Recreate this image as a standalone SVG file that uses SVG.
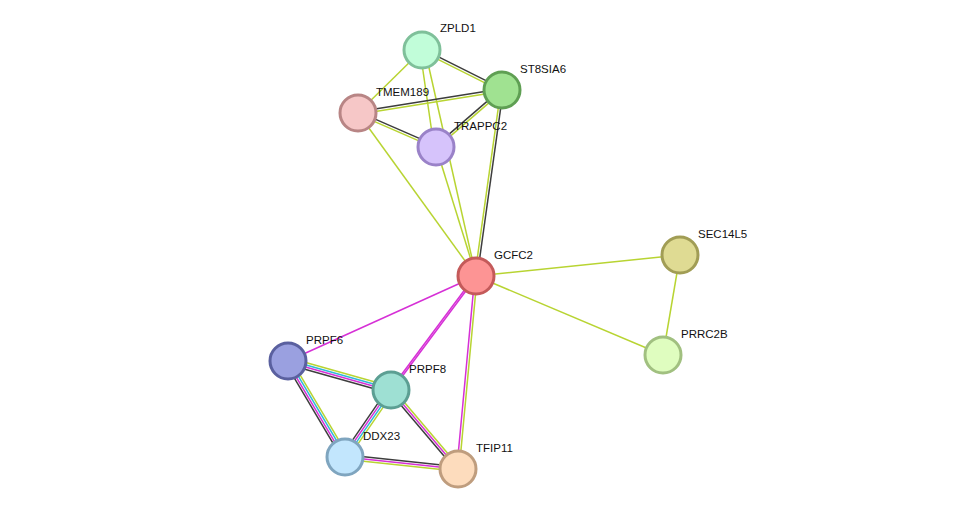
<svg xmlns="http://www.w3.org/2000/svg" width="975" height="515" viewBox="0 0 975 515">
<style>
.e line{stroke-width:1.5;fill:none}
.k{stroke:#3d3d3d}.y{stroke:#b8d432}.m{stroke:#d630d6}.c{stroke:#30b8d8}
.n circle{stroke-width:3}
text{font-family:"Liberation Sans",Arial,sans-serif;font-size:11.5px;fill:#111}
</style>
<rect width="975" height="515" fill="#fff"/>
<g id="connectors" class="e">
<line class="y" x1="422" y1="50" x2="358" y2="113"/>
<line class="y" x1="420" y1="50" x2="434" y2="147"/>
<line class="y" x1="425" y1="50" x2="476" y2="276"/>
<line class="y" x1="358" y1="113" x2="476" y2="276"/>
<line class="y" x1="436" y1="147" x2="476" y2="276"/>
<line class="y" x1="476" y1="276" x2="680" y2="255"/>
<line class="y" x1="476" y1="276" x2="663" y2="355"/>
<line class="y" x1="680" y1="255" x2="663" y2="355"/>
<line class="m" x1="476" y1="276" x2="288" y2="361"/>
<g transform="translate(422,50) rotate(26.57)"><line class="k" x1="0" y1="-1.2" x2="89.4" y2="-1.2"/><line class="y" x1="0" y1="1.2" x2="89.4" y2="1.2"/></g>
<g transform="translate(358,113) rotate(-9.07)"><line class="k" x1="0" y1="-1.2" x2="145.8" y2="-1.2"/><line class="y" x1="0" y1="1.2" x2="145.8" y2="1.2"/></g>
<g transform="translate(358,113) rotate(23.55)"><line class="k" x1="0" y1="-1.2" x2="85.1" y2="-1.2"/><line class="y" x1="0" y1="1.2" x2="85.1" y2="1.2"/></g>
<g transform="translate(436,147) rotate(-40.8)"><line class="k" x1="0" y1="-1.2" x2="87.2" y2="-1.2"/><line class="y" x1="0" y1="1.2" x2="87.2" y2="1.2"/></g>
<g transform="translate(502,90) rotate(97.96)"><line class="k" x1="0" y1="-1.2" x2="187.8" y2="-1.2"/><line class="y" x1="0" y1="1.2" x2="187.8" y2="1.2"/></g>
<g transform="translate(476,276) rotate(95.33)"><line class="y" x1="0" y1="-1.2" x2="193.8" y2="-1.2"/><line class="m" x1="0" y1="1.2" x2="193.8" y2="1.2"/></g>
<g transform="translate(476,276) rotate(126.7)"><line class="m" x1="0" y1="-0.8" x2="142.2" y2="-0.8"/><line class="m" x1="0" y1="0.8" x2="142.2" y2="0.8"/></g>
<g transform="translate(288,361) rotate(15.72)"><line class="y" x1="0" y1="-3.3" x2="107" y2="-3.3"/><line class="c" x1="0" y1="-1.1" x2="107" y2="-1.1"/><line class="m" x1="0" y1="1.1" x2="107" y2="1.1"/><line class="k" x1="0" y1="3.3" x2="107" y2="3.3"/></g>
<g transform="translate(288,361) rotate(59.3)"><line class="y" x1="0" y1="-3.3" x2="111.6" y2="-3.3"/><line class="c" x1="0" y1="-1.1" x2="111.6" y2="-1.1"/><line class="m" x1="0" y1="1.1" x2="111.6" y2="1.1"/><line class="k" x1="0" y1="3.3" x2="111.6" y2="3.3"/></g>
<g transform="translate(391,390) rotate(124.5)"><line class="y" x1="0" y1="-3.3" x2="81.3" y2="-3.3"/><line class="c" x1="0" y1="-1.1" x2="81.3" y2="-1.1"/><line class="m" x1="0" y1="1.1" x2="81.3" y2="1.1"/><line class="k" x1="0" y1="3.3" x2="81.3" y2="3.3"/></g>
<g transform="translate(391,390) rotate(49.7)"><line class="y" x1="0" y1="-2.2" x2="103.6" y2="-2.2"/><line class="m" x1="0" y1="0" x2="103.6" y2="0"/><line class="k" x1="0" y1="2.2" x2="103.6" y2="2.2"/></g>
<g transform="translate(345,457) rotate(6.06)"><line class="k" x1="0" y1="-2.2" x2="113.6" y2="-2.2"/><line class="m" x1="0" y1="0" x2="113.6" y2="0"/><line class="y" x1="0" y1="2.2" x2="113.6" y2="2.2"/></g>
</g>
<g id="ZPLD1" class="n"><circle cx="422" cy="50" r="18" fill="#c1fdd9" stroke="#7fc09a"/><text x="440" y="32">ZPLD1</text></g>
<g id="ST8SIA6" class="n"><circle cx="502" cy="90" r="18" fill="#a0e291" stroke="#5f9f53"/><text x="520" y="73">ST8SIA6</text></g>
<g id="TMEM189" class="n"><circle cx="358" cy="113" r="18" fill="#f6c7c7" stroke="#b88585"/><text x="376" y="96">TMEM189</text></g>
<g id="TRAPPC2" class="n"><circle cx="436" cy="147" r="18" fill="#d6c3fb" stroke="#9a82c8"/><text x="454" y="130">TRAPPC2</text></g>
<g id="GCFC2" class="n"><circle cx="476" cy="276" r="18" fill="#fd9494" stroke="#c45a5a"/><text x="494" y="259">GCFC2</text></g>
<g id="SEC14L5" class="n"><circle cx="680" cy="255" r="18" fill="#dfdb93" stroke="#a19d55"/><text x="698" y="238">SEC14L5</text></g>
<g id="PRRC2B" class="n"><circle cx="663" cy="355" r="18" fill="#dffdbf" stroke="#a1c080"/><text x="681" y="338">PRRC2B</text></g>
<g id="PRPF6" class="n"><circle cx="288" cy="361" r="18" fill="#9aa0e0" stroke="#5a609f"/><text x="306" y="344">PRPF6</text></g>
<g id="PRPF8" class="n"><circle cx="391" cy="390" r="18" fill="#9ee0d3" stroke="#5c9f93"/><text x="409" y="373">PRPF8</text></g>
<g id="DDX23" class="n"><circle cx="345" cy="457" r="18" fill="#c2e6fd" stroke="#7fa5bf"/><text x="363" y="440">DDX23</text></g>
<g id="TFIP11" class="n"><circle cx="458" cy="469" r="18" fill="#fddcbd" stroke="#bf9d7e"/><text x="476" y="452">TFIP11</text></g>
</svg>
